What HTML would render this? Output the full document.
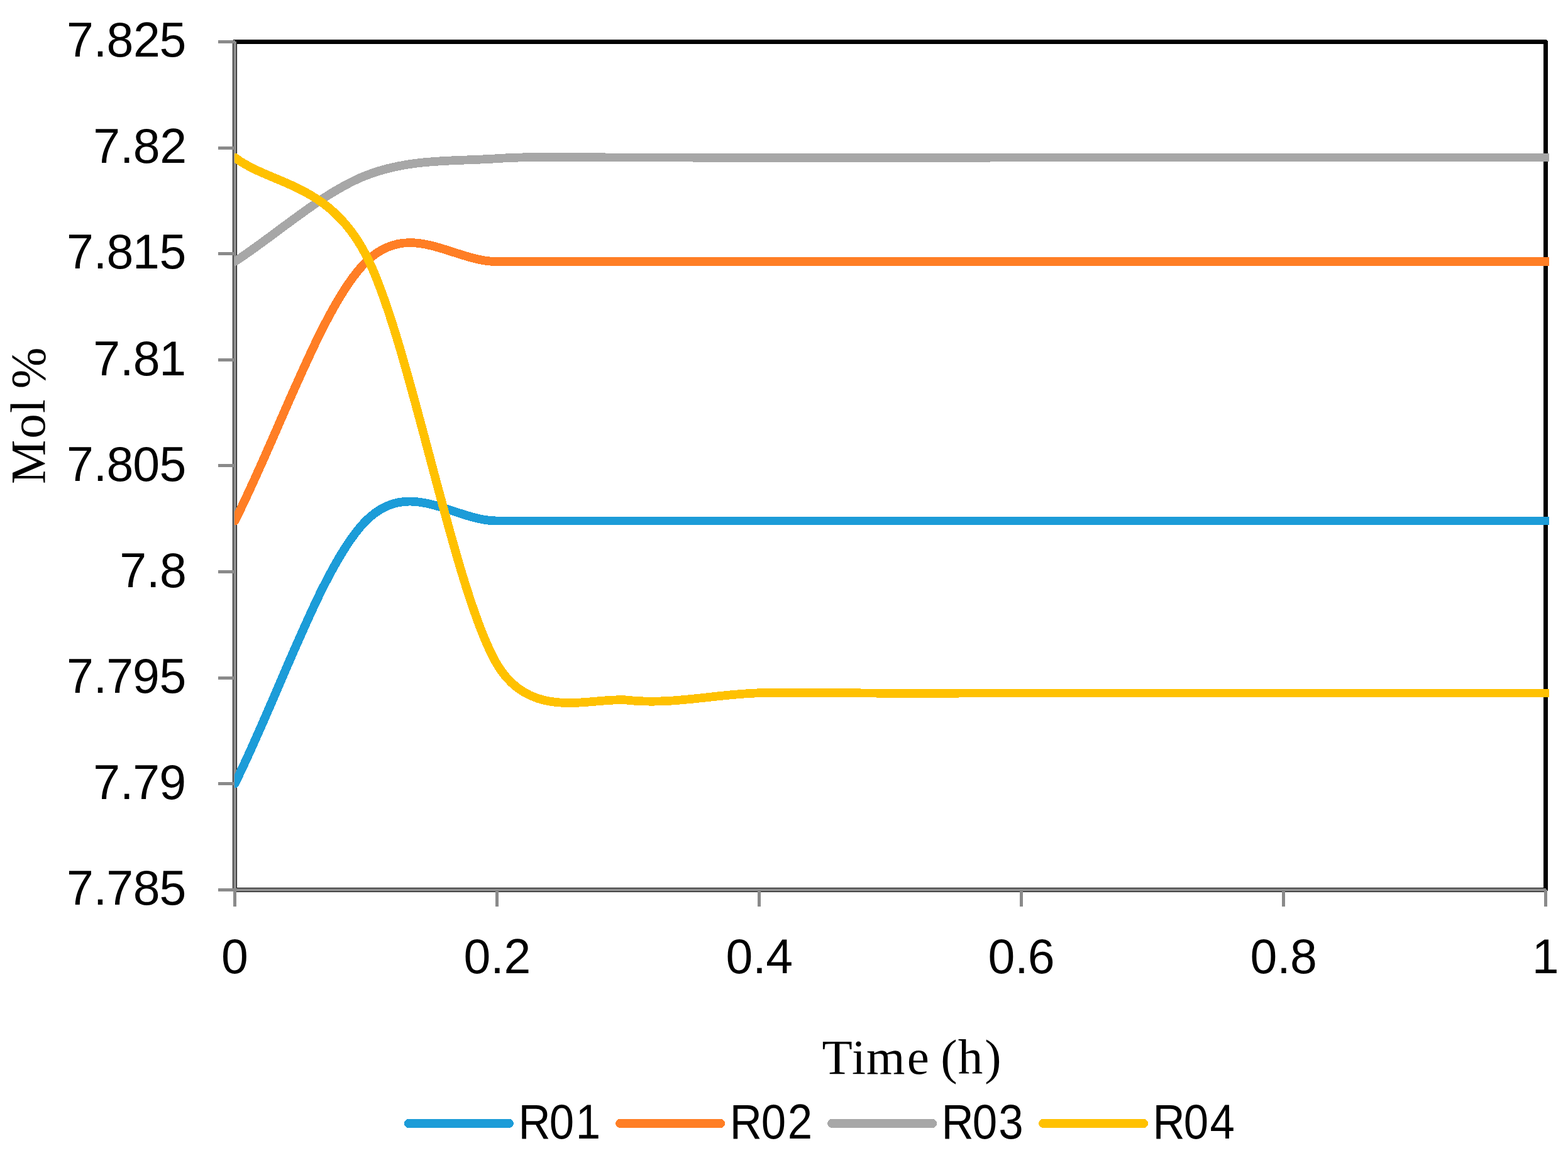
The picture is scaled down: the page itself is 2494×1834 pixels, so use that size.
<!DOCTYPE html>
<html lang="en"><head><meta charset="utf-8"><title>Mol % / Time (h)</title>
<style>
html,body{margin:0;padding:0;background:#fff;}
body{width:2494px;height:1834px;overflow:hidden;}
svg{display:block;}
.tk{font-family:"Liberation Sans",sans-serif;font-size:77px;fill:#000;}
.ax{font-family:"Liberation Serif",serif;font-size:79px;fill:#000;}
</style></head><body>
<svg width="2494" height="1834" viewBox="0 0 2494 1834">
<rect x="0" y="0" width="2494" height="1834" fill="#fff"/>
<defs><clipPath id="pc"><rect x="373" y="60" width="2091" height="1362"/></clipPath></defs>
<g shape-rendering="crispEdges">
<path d="M371 63H2459.5L2462 65.5V1417H2456V1419H376V1413H370V64H371Z M377 70V1412H2455V70Z" fill="#000" fill-rule="evenodd"/>
<rect x="371" y="66" width="5" height="1352" fill="#8A8A8A"/>
<rect x="371" y="1413" width="2088" height="5" fill="#8A8A8A"/>
<rect x="347" y="64" width="27" height="5" fill="#8A8A8A"/>
<rect x="347" y="233" width="27" height="5" fill="#8A8A8A"/>
<rect x="347" y="401" width="27" height="5" fill="#8A8A8A"/>
<rect x="347" y="570" width="27" height="5" fill="#8A8A8A"/>
<rect x="347" y="738" width="27" height="5" fill="#8A8A8A"/>
<rect x="347" y="907" width="27" height="5" fill="#8A8A8A"/>
<rect x="347" y="1076" width="27" height="5" fill="#8A8A8A"/>
<rect x="347" y="1244" width="27" height="5" fill="#8A8A8A"/>
<rect x="347" y="1413" width="27" height="5" fill="#8A8A8A"/>
<rect x="371" y="1415" width="5" height="27" fill="#8A8A8A"/>
<rect x="788" y="1415" width="5" height="27" fill="#8A8A8A"/>
<rect x="1205" y="1415" width="5" height="27" fill="#8A8A8A"/>
<rect x="1622" y="1415" width="5" height="27" fill="#8A8A8A"/>
<rect x="2039" y="1415" width="5" height="27" fill="#8A8A8A"/>
<rect x="2456" y="1415" width="5" height="27" fill="#8A8A8A"/>
</g>
<g clip-path="url(#pc)" fill="none" stroke-width="13.8" stroke-linecap="round" stroke-linejoin="round" shape-rendering="crispEdges">
<path d="M373.50 1246.50 C443.00 1107.17 512.50 898.17 582.00 828.50 C651.50 758.83 721.00 828.50 790.50 828.50 C860.00 828.50 929.50 828.50 999.00 828.50 C1068.50 828.50 1138.00 828.50 1207.50 828.50 C1277.00 828.50 1346.50 828.50 1416.00 828.50 C1485.50 828.50 1555.00 828.50 1624.50 828.50 C1694.00 828.50 1763.50 828.50 1833.00 828.50 C1902.50 828.50 1972.00 828.50 2041.50 828.50 C2111.00 828.50 2180.50 828.50 2250.00 828.50 C2319.50 828.50 2389.00 828.50 2458.50 828.50 C2528.00 828.50 2597.50 828.50 2667.00 828.50" stroke="#1C9CD8"/>
<path d="M373.50 828.50 C443.00 691.27 512.50 485.53 582.00 416.80 C651.50 348.07 721.00 416.22 790.50 416.10 C860.00 415.98 929.50 416.10 999.00 416.10 C1068.50 416.10 1138.00 416.10 1207.50 416.10 C1277.00 416.10 1346.50 416.10 1416.00 416.10 C1485.50 416.10 1555.00 416.10 1624.50 416.10 C1694.00 416.10 1763.50 416.10 1833.00 416.10 C1902.50 416.10 1972.00 416.10 2041.50 416.10 C2111.00 416.10 2180.50 416.10 2250.00 416.10 C2319.50 416.10 2389.00 416.10 2458.50 416.10 C2528.00 416.10 2597.50 416.10 2667.00 416.10" stroke="#FF7E25"/>
<path d="M373.50 416.20 C443.00 370.52 512.50 306.48 582.00 279.15 C651.50 251.82 721.00 256.96 790.50 252.20 C860.00 247.44 929.50 250.81 999.00 250.58 C1068.50 250.35 1138.00 250.76 1207.50 250.80 C1277.00 250.84 1346.50 250.84 1416.00 250.80 C1485.50 250.76 1555.00 250.60 1624.50 250.55 C1694.00 250.50 1763.50 250.51 1833.00 250.50 C1902.50 250.49 1972.00 250.50 2041.50 250.50 C2111.00 250.50 2180.50 250.50 2250.00 250.50 C2319.50 250.50 2389.00 250.50 2458.50 250.50 C2528.00 250.50 2597.50 250.50 2667.00 250.50" stroke="#A7A7A7"/>
<path d="M373.50 250.60 C433.18 294.94 522.32 290.16 582.00 405.50 C651.50 539.82 721.00 938.46 790.50 1056.50 C845.35 1149.66 944.15 1107.73 999.00 1113.75 C1068.50 1121.38 1138.00 1104.14 1207.50 1102.30 C1277.00 1100.46 1346.50 1102.67 1416.00 1102.70 C1485.50 1102.73 1555.00 1102.53 1624.50 1102.50 C1694.00 1102.47 1763.50 1102.50 1833.00 1102.50 C1902.50 1102.50 1972.00 1102.50 2041.50 1102.50 C2111.00 1102.50 2180.50 1102.50 2250.00 1102.50 C2319.50 1102.50 2389.00 1102.50 2458.50 1102.50 C2528.00 1102.50 2597.50 1102.50 2667.00 1102.50" stroke="#FFC100"/>
</g>
<text class="tk" x="105.93 148.72 169.49 212.09 253.52" y="90.00">7.825</text>
<text class="tk" x="148.13 190.92 211.69 254.29" y="259.00">7.82</text>
<text class="tk" x="105.93 148.72 169.49 211.05 253.52" y="427.00">7.815</text>
<text class="tk" x="148.13 190.92 211.69 253.25" y="597.00">7.81</text>
<text class="tk" x="105.93 148.72 169.49 211.34 253.52" y="765.00">7.805</text>
<text class="tk" x="190.33 233.12 253.89" y="934.00">7.8</text>
<text class="tk" x="105.93 148.72 169.16 210.94 253.52" y="1102.00">7.795</text>
<text class="tk" x="148.13 190.92 211.36 253.14" y="1271.00">7.79</text>
<text class="tk" x="105.93 148.72 169.16 211.69 253.52" y="1439.00">7.785</text>
<text class="tk" x="352.04" y="1548.00">0</text>
<text class="tk" x="737.43 780.23 801.41" y="1548.00">0.2</text>
<text class="tk" x="1154.43 1197.23 1218.24" y="1548.00">0.4</text>
<text class="tk" x="1571.43 1614.23 1634.64" y="1548.00">0.6</text>
<text class="tk" x="1988.43 2031.23 2052.01" y="1548.00">0.8</text>
<text class="tk" x="2436.75" y="1548.00">1</text>
<text class="ax" x="1307.38 1354.89 1378.07 1442.85 1477.92 1496.37 1523.87 1566.22" y="1708.00">Time (h)</text>
<g transform="translate(71.0 769.0) rotate(-90)">
<text class="ax" x="-1.12 71.20 111.97 133.92 150.65" y="0.00">Mol %</text>
</g>
<g shape-rendering="crispEdges">
<line x1="649.9" y1="1787" x2="809.9" y2="1787" stroke="#1C9CD8" stroke-width="14" stroke-linecap="round"/>
<line x1="986.1" y1="1787" x2="1146.1" y2="1787" stroke="#FF7E25" stroke-width="14" stroke-linecap="round"/>
<line x1="1323.1" y1="1787" x2="1483.1" y2="1787" stroke="#A7A7A7" stroke-width="14" stroke-linecap="round"/>
<line x1="1659.1" y1="1787" x2="1819.1" y2="1787" stroke="#FFC100" stroke-width="14" stroke-linecap="round"/>
</g>
<text class="tk" x="896.18 949.79 995.38" y="1811.00" transform="scale(0.92 1)">R01</text>
<text class="tk" x="1261.62 1316.04 1361.80" y="1811.00" transform="scale(0.92 1)">R02</text>
<text class="tk" x="1627.76 1681.26 1726.27" y="1811.00" transform="scale(0.92 1)">R03</text>
<text class="tk" x="1992.98 2046.47 2091.87" y="1811.00" transform="scale(0.92 1)">R04</text>
</svg>
</body></html>
